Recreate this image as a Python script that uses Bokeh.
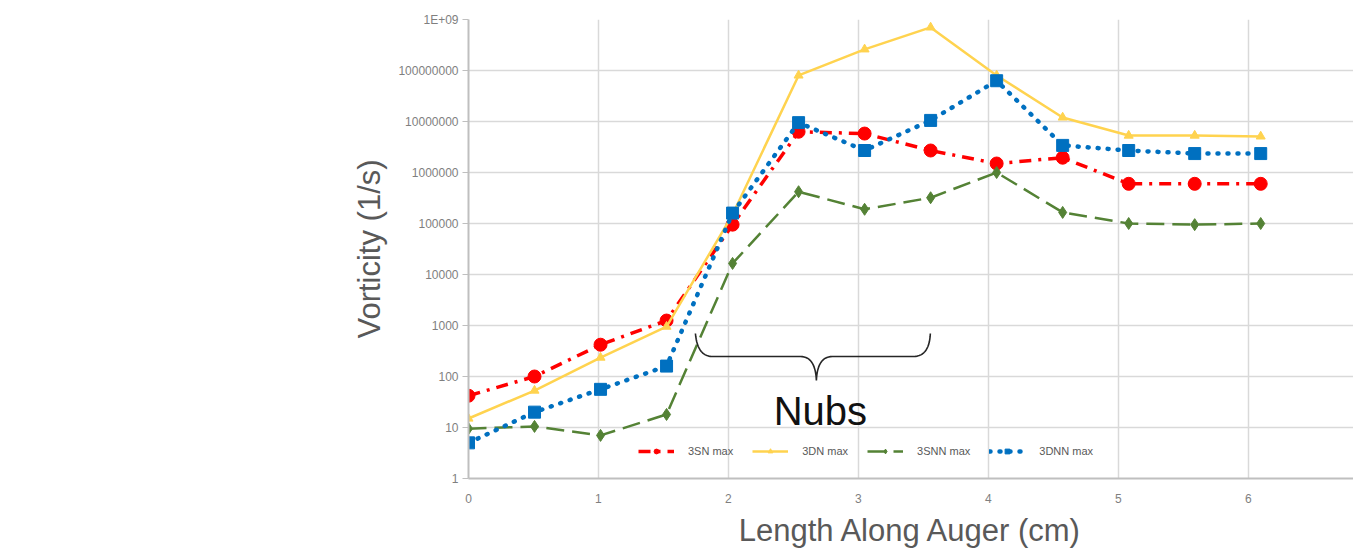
import numpy as np
from bokeh.plotting import figure
from bokeh.models import Range1d, FixedTicker, CustomJSTickFormatter, Legend, LegendItem, Label
from bokeh.embed import file_html
from bokeh.resources import INLINE

# ---- data ----
x_cm = [0.0, 0.508, 1.016, 1.524, 2.032, 2.54, 3.048, 3.556, 4.064, 4.572, 5.08, 5.588, 6.096]
sn_3 = [42, 100, 420, 1250, 95000, 6.3e6, 5.8e6, 2.7e6, 1.5e6, 1.95e6, 6.0e5, 6.0e5, 6.0e5]
dn_3 = [15, 53, 235, 950, 1.5e5, 8.0e7, 2.6e8, 7.0e8, 8.0e7, 1.2e7, 5.3e6, 5.3e6, 5.1e6]
snn_3 = [9.5, 10.5, 7, 18, 16500, 4.2e5, 1.9e5, 3.2e5, 1.0e6, 1.65e5, 1.0e5, 9.5e4, 1.0e5]
dnn_3 = [5, 20, 56, 160, 1.6e5, 9.5e6, 2.7e6, 1.05e7, 6.3e7, 3.4e6, 2.7e6, 2.35e6, 2.35e6]
series_names = ["3SN max", "3DN max", "3SNN max", "3DNN max"]
x_ticks = [0, 1, 2, 3, 4, 5, 6]
y_ticks = [1, 10, 100, 1000, 10000, 100000, 1000000, 10000000, 100000000, 1000000000]
x_title = "Length Along Auger (cm)"
y_title = "Vorticity (1/s)"

W, H = 1353, 550
p = figure(width=W, height=H, output_backend="svg", toolbar_location=None,
           y_axis_type="log", x_range=Range1d(0, 6.81), y_range=Range1d(1, 1e9),
           min_border_left=468, min_border_right=0, min_border_top=19, min_border_bottom=72)
p.outline_line_color = None
p.background_fill_color = "white"

grid_col = "#d9d9d9"
p.xgrid.grid_line_color = grid_col
p.ygrid.grid_line_color = grid_col
p.xgrid.grid_line_width = 1.5
p.ygrid.grid_line_width = 1.5
p.xaxis.ticker = FixedTicker(ticks=x_ticks)
p.yaxis.ticker = FixedTicker(ticks=y_ticks, minor_ticks=[])
p.yaxis.formatter = CustomJSTickFormatter(code="return tick >= 1e9 ? '1E+09' : Math.round(tick).toString();")

for ax in (p.xaxis, p.yaxis):
    ax.axis_line_color = "#bfbfbf"
    ax.axis_line_width = 2
    ax.minor_tick_line_color = None
    ax.major_label_text_font = "Liberation Sans"
    ax.major_label_text_font_size = "12px"
    ax.major_label_text_color = "#7f7f7f"
    ax.axis_label_text_font = "Liberation Sans"
    ax.axis_label_text_font_style = "normal"
    ax.axis_label_text_color = "#595959"
    ax.axis_label_text_font_size = "31px"
p.xaxis.major_tick_line_color = None
p.yaxis.major_tick_line_color = "#bfbfbf"
p.yaxis.major_tick_out = 6
p.yaxis.major_tick_in = 0
p.yaxis.major_label_standoff = 4
p.xaxis.major_label_standoff = 9
p.xaxis.axis_label = x_title
p.yaxis.axis_label = y_title
p.xaxis.axis_label_standoff = 7
p.yaxis.axis_label_standoff = 8

red, gold, green, blue = "#ff0000", "#ffd34f", "#548235", "#0070c0"

items = []
l1 = p.line(x_cm, sn_3, line_color=red, line_width=3.5, line_dash="12 7 3 7")
m1 = p.scatter(x_cm, sn_3, marker="circle", size=13, fill_color=red, line_color=red)
items.append(LegendItem(label=series_names[0], renderers=[l1, m1]))

l2 = p.line(x_cm, dn_3, line_color=gold, line_width=2.5)
m2 = p.scatter(x_cm, dn_3, marker="triangle", size=9, fill_color=gold, line_color=gold)
items.append(LegendItem(label=series_names[1], renderers=[l2, m2]))

l3 = p.line(x_cm, snn_3, line_color=green, line_width=2.5, line_dash="18 8")
m3 = p.scatter(x_cm, snn_3, marker="diamond", size=12, fill_color=green, line_color=green)
items.append(LegendItem(label=series_names[2], renderers=[l3, m3]))

l4 = p.line(x_cm, dnn_3, line_color=blue, line_width=4.5, line_dash="1 9", line_cap="round")
m4 = p.scatter(x_cm, dnn_3, marker="square", size=12, fill_color=blue, line_color=blue)
items.append(LegendItem(label=series_names[3], renderers=[l4, m4]))

legend = Legend(items=items, orientation="horizontal", location=(170, 21),
                border_line_color=None, background_fill_alpha=0,
                label_text_font="Liberation Sans", label_text_font_size="11px",
                label_text_color="#595959", glyph_width=36, glyph_height=12,
                label_standoff=14, spacing=19, padding=2, margin=0)
p.add_layout(legend, "center")

# ---- "Nubs" brace annotation (pixel path converted to data coords) ----
x0_px, px_per_cm = 468.0, 130.0
y0_px, px_per_dec = 478.0, 51.0
def to_data(px, py):
    return (px - x0_px) / px_per_cm, 10 ** ((y0_px - py) / px_per_dec)

def quad(p0, c, p1, n=16):
    t = np.linspace(0, 1, n)
    xs = (1 - t) ** 2 * p0[0] + 2 * (1 - t) * t * c[0] + t ** 2 * p1[0]
    ys = (1 - t) ** 2 * p0[1] + 2 * (1 - t) * t * c[1] + t ** 2 * p1[1]
    return list(xs), list(ys)

segs = [
    quad((695, 333), (697, 356), (712, 356)),
    ([712, 800], [356, 356]),
    quad((800, 356), (815, 356), (816, 380)),
    quad((816, 380), (817, 356), (832, 356)),
    ([832, 913], [356, 356]),
    quad((913, 356), (929, 356), (930, 333)),
]
bx, by = [], []
for sx, sy in segs:
    for a, b in zip(sx, sy):
        dx, dy = to_data(a, b)
        bx.append(dx)
        by.append(dy)
p.line(bx, by, line_color="#262626", line_width=1.6)

nx, ny = to_data(820, 410)
p.add_layout(Label(x=nx, y=ny, text="Nubs", text_font="Liberation Sans",
                   text_font_size="40px", text_color="#111111",
                   text_align="center", text_baseline="middle"))

open("out.html", "w").write(file_html(p, INLINE))
